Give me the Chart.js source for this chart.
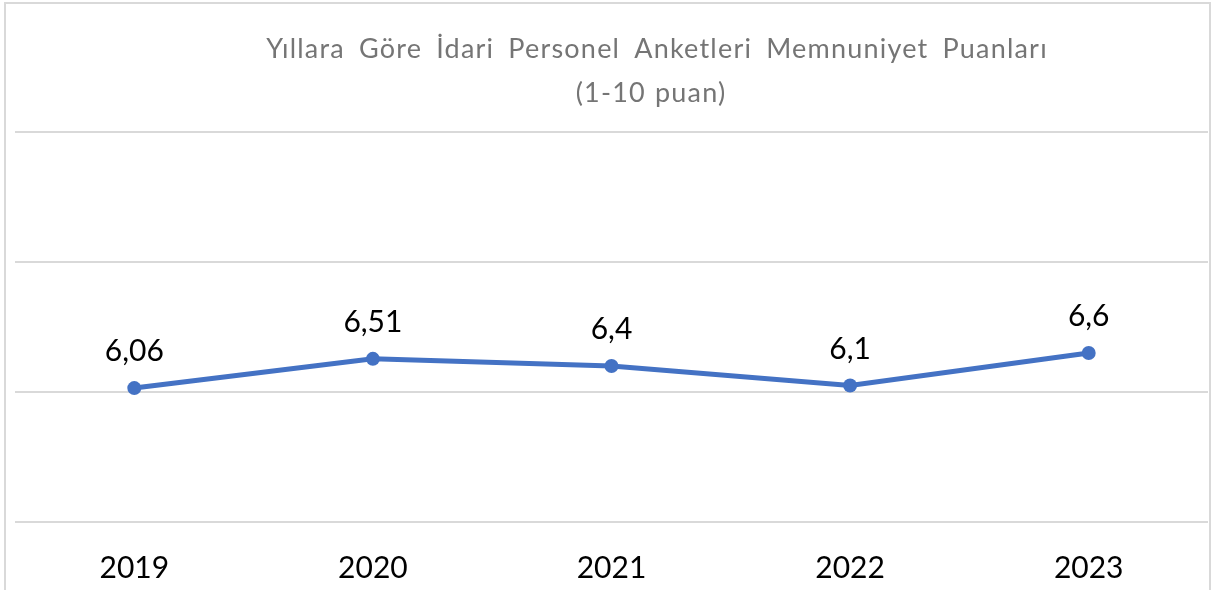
<!DOCTYPE html>
<html>
<head>
<meta charset="utf-8">
<script src="https://cdn.jsdelivr.net/npm/chart.js/dist/chart.umd.min.js"></script>
<style>
  html, body { margin: 0; padding: 0; background: #fff; overflow: hidden; }
  #frame {
    position: absolute; left: 4px; top: 2px; width: 1207px; height: 620px;
    border: 2px solid #d9d9d9; box-sizing: border-box;
  }
  #wrap { position: absolute; left: 0; top: 0; width: 1217px; height: 590px; }
</style>
</head>
<body>
<div id="frame"></div>
<div id="wrap"><canvas id="chartLine"></canvas></div>
<script>
const years = ["2019", "2020", "2021", "2022", "2023"]
const scores = [6.06, 6.51, 6.4, 6.1, 6.6]
const titleLines = ["Yıllara Göre İdari Personel Anketleri Memnuniyet Puanları", "(1-10 puan)"]

const fontName = "Lato"

// title drawn by hand so it can sit a little right of centre, like the original
const titlePlugin = {
  id: "titleText",
  afterDraw(chart) {
    const ctx = chart.ctx
    ctx.save()
    ctx.fillStyle = "#757575"
    ctx.textAlign = "center"
    ctx.textBaseline = "alphabetic"
    ctx.font = "27px " + fontName
    ctx.letterSpacing = "1.2px"
    ctx.wordSpacing = "6px"
    ctx.fillText(titleLines[0], 657, 58)
    ctx.wordSpacing = "1px"
    ctx.fillText(titleLines[1], 651, 102)
    ctx.restore()
  }
}

// value labels above each point, decimal comma
const valuePlugin = {
  id: "valueLabels",
  afterDatasetsDraw(chart) {
    const ctx = chart.ctx
    const meta = chart.getDatasetMeta(0)
    ctx.save()
    ctx.fillStyle = "#000"
    ctx.textAlign = "center"
    ctx.textBaseline = "alphabetic"
    ctx.font = "30px " + fontName
    meta.data.forEach((pt, i) => {
      const txt = String(scores[i]).replace(".", ",")
      ctx.fillText(txt, pt.x, pt.y - 27)
    })
    ctx.restore()
  }
}

const data = {
  labels: years,
  datasets: [
    {
      label: "Puan",
      data: scores,
      borderColor: "#4472C4",
      backgroundColor: "#4472C4",
      borderWidth: 5,
      pointRadius: 7,
      pointHoverRadius: 7,
      pointBorderWidth: 0,
      tension: 0
    }
  ]
}

const options = {
  responsive: true,
  maintainAspectRatio: false,
  animation: false,
  layout: {
    padding: { left: 15, right: 9, top: 132, bottom: -16 }
  },
  scales: {
    x: {
      offset: true,
      grid: { display: false },
      border: { display: false },
      ticks: {
        padding: 20,
        color: "#000",
        font: { family: fontName, size: 30 }
      }
    },
    y: {
      min: 4,
      max: 10,
      ticks: { display: false, stepSize: 2 },
      border: { display: false },
      grid: { color: "#d9d9d9", lineWidth: 2, drawTicks: false }
    }
  },
  plugins: {
    legend: { display: false },
    title: { display: false },
    tooltip: { enabled: false }
  }
}

new Chart(document.getElementById("chartLine"), {
  type: "line",
  data,
  options,
  plugins: [titlePlugin, valuePlugin]
})
</script>
</body>
</html>
